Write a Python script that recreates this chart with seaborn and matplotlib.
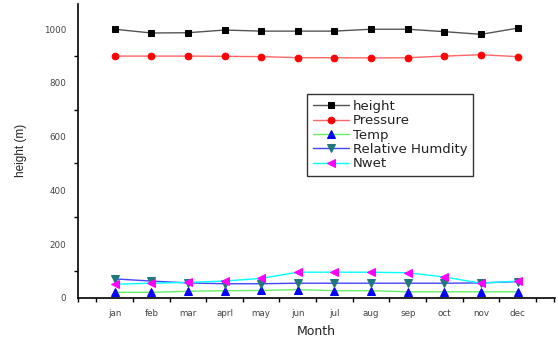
import numpy as np
import pandas as pd
import matplotlib
matplotlib.use("Agg")
import matplotlib.pyplot as plt
import seaborn as sns
from matplotlib.ticker import MultipleLocator

months = ["jan", "feb", "mar", "aprl", "may", "jun", "jul", "aug", "sep", "oct", "nov", "dec"]
height = [1000, 986, 987, 997, 993, 993, 993, 1000, 1000, 991, 981, 1004]
pressure = [900, 900, 900, 899, 898, 894, 894, 893, 894, 900, 905, 898]
temp = [20, 20, 24, 26, 27, 30, 26, 26, 22, 22, 22, 22]
rel_humidity = [70, 62, 55, 52, 52, 54, 54, 54, 54, 54, 55, 60]
nwet = [50, 54, 57, 62, 72, 95, 95, 95, 93, 77, 54, 62]

sns.set_theme(style="white")
plt.rcParams['font.family'] = ['DejaVu Sans']

fig = plt.figure(figsize=(5.58, 3.4), dpi=100)
ax = fig.add_axes([78/558, 1-297.7/340, 477/558, 293.7/340])

xpos = np.arange(1, 13)
series = [
    ("height", height, "#555555", "s", "black", 4.2),
    ("Pressure", pressure, "#ff6666", "o", "red", 4.8),
    ("Temp", temp, "#66ee66", "^", "blue", 5.5),
    ("Relative Humdity", rel_humidity, "#4444ff", "v", "#207878", 5.5),
    ("Nwet", nwet, "cyan", "<", "magenta", 5.5),
]
for name, vals, lc, mk, mc, ms in series:
    df = pd.DataFrame({"x": xpos, "y": vals})
    sns.lineplot(data=df, x="x", y="y", ax=ax, color=lc, marker=mk, markersize=ms,
                 markerfacecolor=mc, markeredgecolor=mc, linewidth=1, label=name)

ax.set_xlim(0, 13.02)
ax.set_ylim(0, 1094)
ax.set_xticks(xpos)
ax.set_xticklabels(months)
ax.xaxis.set_minor_locator(MultipleLocator(0.5))
ax.yaxis.set_minor_locator(MultipleLocator(100))
ax.set_yticks([0, 200, 400, 600, 800, 1000])

for s in ["top", "right"]:
    ax.spines[s].set_visible(False)
for s in ["left", "bottom"]:
    ax.spines[s].set_color("black")
    ax.spines[s].set_linewidth(1.2)

ax.tick_params(axis="both", which="both", direction="out", colors="black",
               labelcolor="#444444", labelsize=6.3, width=1)
ax.tick_params(axis="both", which="major", length=5)
ax.tick_params(axis="both", which="minor", length=3)
ax.tick_params(axis="x", which="minor", bottom=True)
ax.tick_params(axis="y", which="minor", left=True)
ax.tick_params(axis="x", which="major", pad=3)

ax.set_xlabel("Month", fontsize=9, color="#222222", labelpad=5)
ax.set_ylabel("height (m)", fontsize=8.5, color="#222222", labelpad=12,
              family=["Liberation Sans", "DejaVu Sans"])

leg = ax.legend(loc="upper left", bbox_to_anchor=((307-78)/477, (297.7-94)/293.7),
                borderaxespad=0, frameon=True, fancybox=False, fontsize=9.5,
                handlelength=2.7, handletextpad=0.3, labelspacing=0.1,
                borderpad=0.45, edgecolor="black")
leg.get_frame().set_linewidth(1)
for t in leg.get_texts():
    t.set_color("#222222")

fig.savefig("out.png", dpi=100)
